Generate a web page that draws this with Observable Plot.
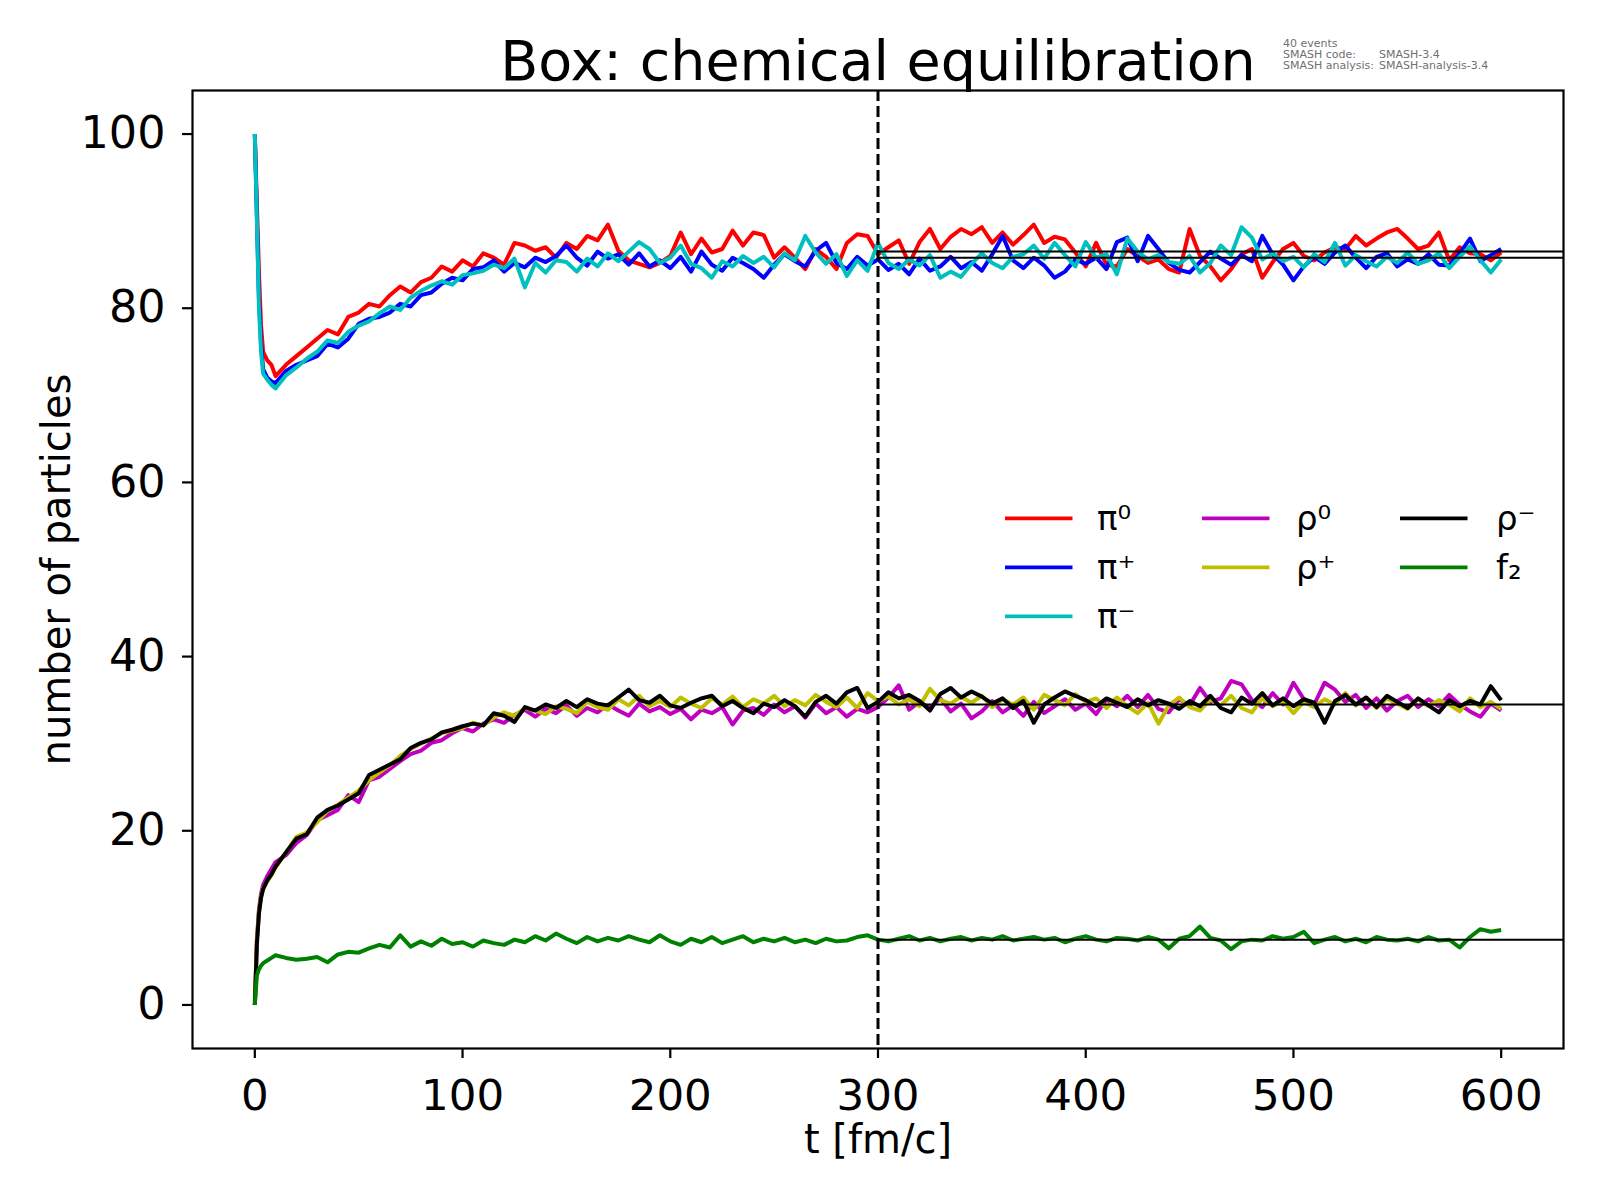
<!DOCTYPE html>
<html><head><meta charset="utf-8">
<script src="https://cdn.jsdelivr.net/npm/d3@7"></script>
<script src="https://cdn.jsdelivr.net/npm/@observablehq/plot@0.6"></script>
<style>
body{margin:0;background:#fff;}
#chart{position:relative;width:1600px;height:1200px;}
</style>
</head><body><div id="chart"></div>
<script>
// time axis [fm/c]
const T = [0,1,2,3,4,6,8,10,
15,20,25,30,35,40,45,50,55,60,
65,70,75,80,85,90,95,100,105,110,
115,120,125,130,135,140,145,150,155,160,
165,170,175,180,185,190,195,200,205,210,
215,220,225,230,235,240,245,250,255,260,
265,270,275,280,285,290,295,300,305,310,
315,320,325,330,335,340,345,350,355,360,
365,370,375,380,385,390,395,400,405,410,
415,420,425,430,435,440,445,450,455,460,
465,470,475,480,485,490,495,500,505,510,
515,520,525,530,535,540,545,550,555,560,
565,570,575,580,585,590,595,600];

const pi0 = [100,92,84,78,75,74,73.5,72.2,
73.5,74.5,75.5,76.5,77.5,77,79,79.5,80.5,80.2,
81.5,82.5,81.8,83,83.5,84.8,84.2,85.5,84.8,86.3,
85.8,85,87.5,87.2,86.6,87,85.8,87.5,86.8,88.3,
87.8,89.6,86.6,85.5,85.1,84.7,85.2,86,88.7,86.2,
88,86.4,86.8,88.9,87.2,88.7,88.4,85.8,87,85.8,
84.5,86.8,85.9,84.5,87.5,88.5,88.3,86.2,87,87.8,
85.1,87.6,89.1,86.8,88.2,89.1,88.5,89.3,87.5,88.7,
87.3,88.4,89.6,87.5,88.2,87.9,86.4,84.8,87.5,85,
84.8,86.8,86,85.2,85.6,84.5,84.1,89.1,86,84.8,
83.2,84.5,86.2,86.8,83.5,85.3,86.8,87.5,86,85.5,
86.4,87,86.8,88.3,87.2,88,88.7,89.1,88,86.8,
87.2,88.7,85.5,87,86.3,86.2,85.5,86.4];

const piPlus = [100,90.5,81,76,73,72,71.6,71.4,
72.8,73.5,74,74.5,75.9,75.5,76.5,78.2,78.8,79,
79.5,80.5,80.2,81.5,81.8,82.8,83.5,83.2,84.5,84.7,
85.5,84.2,85.2,84.7,85.8,85.3,86,87.2,85.8,84.9,
86.5,85.7,86.2,85,86.3,84.8,85.5,84.6,85.9,84.2,
86.5,85,84.3,85.8,85.2,84.5,83.5,85,86.2,85.4,
84.8,86.6,87.5,85.2,84.5,85.9,84.9,85.6,84.4,85.1,
83.9,85.7,84.3,84.8,85.9,84.6,85.3,84.3,86.2,88.3,
85.5,84.6,85.8,84.9,83.5,84.2,85.6,85.1,85.8,84.5,
87.6,88.1,85.4,88.3,86.8,85.2,84.4,84.1,85.3,86.5,
85.7,85,86.1,85.4,88.3,86.2,85,83.2,84.8,85.9,
85.1,86.4,87.2,85.8,84.6,85.9,86.3,84.8,85.6,85.1,
86.2,85,84.9,86.3,88,85.4,86.1,86.8];

const piMinus = [100,90,80,75,72.5,71.8,71.2,70.8,
72.3,73.2,74.2,75,76.3,76,77.3,78,78.5,79.4,
80.2,79.8,81.2,82,82.6,83.1,82.7,83.8,84,84.3,
85,84.6,85.7,82.4,85.2,84.1,85.5,85.3,84.2,85.7,
84.8,86.3,85.4,86.5,87.6,86.8,85.2,85.8,87.2,85.1,
84.6,83.5,85.4,84.8,86,85.2,85.9,84.7,86.3,85.5,
88.3,86.4,85.1,86.2,83.7,85.5,84.3,87.5,85.2,84.5,
85.6,84.9,86.1,83.5,84.2,83.6,85.1,86.3,85.2,84.6,
85.9,86.2,87.2,85.7,87.5,86.1,84.8,87.6,85.8,86.2,
83.9,88,86.5,85.6,86.1,85.3,85.1,86,84.1,85.2,
87.2,86.1,89.3,88.1,85.6,86.3,85.4,85.9,84.7,86.2,
85.3,87.5,84.9,86.1,85.4,84.8,85.9,85.2,86.4,85.1,
85.5,86.3,84.6,85.9,87.1,85.5,84.1,85.6];

const rho0 = [0,7.5,11,12.8,13.8,14.8,15.6,16.4,
17.2,18.6,19.5,21.2,21.8,22.4,24.1,23.3,25.8,26.2,
27.1,28,28.8,29.2,30.1,30.4,31.2,31.8,31.4,32.3,
32.8,32.4,33.3,33.9,33.1,34,33.5,34.4,33.2,34.1,
33.6,34.5,33.8,33.2,34.6,33.7,34.2,33.4,34,32.8,
33.9,33.5,34.2,32.2,33.8,34.1,33.3,34.5,33.6,34.3,
33,34.6,33.5,34.2,33.1,34,33.6,34.2,35.3,36.7,
33.9,34.8,34.1,35.2,33.7,34.6,32.9,33.7,34.9,33.6,
34.4,33.2,34.8,33.5,34.3,35.1,33.9,34.6,33.4,35.1,
34.3,35.5,34.2,35.6,34,33.6,35.1,34.4,36.4,34.8,
35.2,37.2,36.8,35,34.2,35.8,34.5,37,35.1,34.5,
37,36.2,34.8,35.6,34.1,35.2,33.8,34.9,35.5,34.2,
35.1,34.3,35.6,34.5,33.7,33.1,34.6,33.8];

const rhoPlus = [0,7.5,10.8,12.5,13.4,14.2,14.9,15.8,
17.5,19.3,19.8,21,22.3,23,23.8,24.6,25.8,26.7,
27.5,28.6,29.4,30,30.6,31.2,31.5,31.8,32.4,32.1,
33,33.6,33.2,34.1,33.8,33.4,34.3,34,33.5,34.8,
34.2,33.9,35.1,34.4,35.5,34.3,34.9,34.2,35.3,34.6,
34.1,35.2,34.5,35.4,34.2,35.1,34.6,35.5,34.3,35,
34.4,35.6,34.8,34.2,35.3,34.1,35.8,34.9,35.4,34.5,
35.1,34.3,36.3,35,34.6,35.4,34.7,35.5,34.2,35.1,
34.5,35.3,33.9,35.6,35,34.4,35.7,34.8,35.2,34.1,
35.3,34.3,33.5,34.7,32.3,34.4,35.3,34.2,33.8,35.1,
34.4,35.5,34.1,33.6,35.2,34.3,34.9,33.5,34.8,34.2,
35.1,34.5,35.8,34.4,35.3,34.1,35.2,34.6,34,35.1,
34.3,35,34.5,33.7,35.2,34.2,34.8,34];

const rhoMinus = [0,7,10.5,12.3,13.3,14.3,15,15.9,
17.5,19.1,19.6,21.5,22.4,22.9,23.6,24.3,26.4,27,
27.6,28.2,29.5,30.1,30.5,31.3,31.6,32,32.3,32.1,
33.5,33.2,32.5,34.2,33.8,34.5,34.1,34.9,34.2,35.1,
34.6,34.4,35.3,36.2,35,34.7,35.5,34.4,34.1,34.7,
35.2,35.5,34.3,34.9,34.1,33.5,34.6,34.2,35,34.3,
33.1,34.8,35.5,34.6,35.9,36.4,34.1,34.8,35.9,35.2,
35.6,34.9,33.8,35.7,36.4,35.3,36,35.4,34.6,35.2,
34.1,34.9,32.4,34.5,35.3,36,35.5,35,34.3,35.2,
34.7,34.2,35.1,34.4,35,34.6,34,34.9,34.3,35.5,
34.1,33.6,35.3,34.6,35.8,34.4,35.2,34.3,35.1,34.7,
32.4,34.9,35.6,34.5,35.3,34.2,35.5,34.8,34.1,35.2,
34.4,33.6,35,34.3,34.9,34.5,36.6,35];

const f2 = [0,3.4,4.1,4.5,4.8,5.1,5.4,5.7,
5.4,5.2,5.3,5.5,4.9,5.8,6.1,6,6.5,6.9,
6.6,8,6.7,7.3,6.8,7.6,7,7.2,6.7,7.4,
7.1,6.9,7.5,7.2,7.9,7.4,8.2,7.6,7.1,7.8,
7.3,7.7,7.4,7.9,7.5,7.2,8,7.3,6.9,7.6,
7.2,7.8,7.1,7.5,7.9,7.2,7.6,7.3,7.7,7.2,
7.5,7.1,7.6,7.3,7.4,7.8,8,7.5,7.3,7.6,
7.9,7.4,7.7,7.3,7.6,7.8,7.4,7.7,7.5,7.9,
7.4,7.6,7.8,7.5,7.7,7.2,7.6,7.9,7.5,7.3,
7.7,7.6,7.4,7.8,7.5,6.5,7.6,7.9,9,7.7,
7.4,6.4,7.3,7.5,7.4,7.9,7.6,7.8,8.4,7.1,
7.5,7.8,7.3,7.6,7.2,7.8,7.5,7.4,7.6,7.3,
7.8,7.4,7.5,6.6,7.8,8.7,8.4,8.6];

const seriesNames = ["π⁰","π⁺","π⁻","ρ⁰","ρ⁺","ρ⁻","f₂"];
const seriesValues = [pi0, piPlus, piMinus, rho0, rhoPlus, rhoMinus, f2];
const seriesColors = ["#ff0000","#0000ff","#00bfbf","#bf00bf","#bfbf00","#000000","#008000"];

// equilibrium levels (horizontal reference lines drawn from t=300)
const eqLevels = [86.5, 85.8, 34.5, 7.5];
const tEquil = 300;

const xTicks = [0,100,200,300,400,500,600];
const yTicks = [0,20,40,60,80,100];

const title = "Box: chemical equilibration";
const xLabel = "t [fm/c]";
const yLabel = "number of particles";
const infoLines = ["40 events", "SMASH code:", "SMASH analysis:"];
const infoValues = ["", "SMASH-3.4", "SMASH-analysis-3.4"];

const W = 1600, H = 1200;
const mL = 192, mR = 37, mT = 90, mB = 152;
const FONT = "'DejaVu Sans', sans-serif";

const lineMarks = seriesValues.map((vals, k) =>
  Plot.line(T.map((t, i) => ({t, v: vals[i]})), {
    x: "t", y: "v", stroke: seriesColors[k], strokeWidth: 4,
    strokeLinejoin: "round", strokeLinecap: "butt"
  })
);

const svg = Plot.plot({
  width: W, height: H,
  marginLeft: mL, marginRight: mR, marginTop: mT, marginBottom: mB,
  style: {fontFamily: FONT, background: "#fff", color: "#000"},
  x: {domain: [-30, 630]},
  y: {domain: [-5, 105]},
  marks: [
    ...lineMarks,
    Plot.ruleY(eqLevels, {y: d => d, x1: tEquil, x2: 630, stroke: "#000", strokeWidth: 2}),
    Plot.ruleX([tEquil], {stroke: "#000", strokeWidth: 3, strokeDasharray: "11,5"}),
    Plot.frame({stroke: "#000", strokeWidth: 2.2}),
    Plot.axisX({ticks: xTicks, tickSize: 10, tickPadding: 21, fontSize: 43.5, strokeWidth: 2.2, label: null}),
    Plot.axisY({ticks: yTicks, tickSize: 10, tickPadding: 17, fontSize: 44.5, strokeWidth: 2.2, label: null}),
    Plot.text([title], {frameAnchor: "top", dy: -10.5, lineAnchor: "bottom", textAnchor: "middle", fontSize: 55.5, text: d => d, fill: "#000"}),
    Plot.text([xLabel], {frameAnchor: "bottom", dy: 104, lineAnchor: "bottom", textAnchor: "middle", fontSize: 40, text: d => d, fill: "#000"}),
    Plot.text([yLabel], {frameAnchor: "left", dx: -123, rotate: -90, lineAnchor: "bottom", textAnchor: "middle", fontSize: 40, text: d => d, fill: "#000"})
  ]
});

// run information (small grey text at the top right)
const info = d3.select(svg).append("g").attr("font-size", 11).attr("fill", "#707070")
  .attr("font-family", FONT).attr("text-anchor", "start");
infoLines.forEach((s, i) => {
  const y = 47.3 + i * 10.8;
  info.append("text").attr("x", 1283).attr("y", y).text(s);
  if (infoValues[i]) info.append("text").attr("x", 1379).attr("y", y).text(infoValues[i]);
});

// Legend (3 columns: 3,2,2)
const colX = [1005, 1202, 1400];
const textX = [1097, 1296, 1496];
const rowY = [518.4, 567.3, 616.3];
const lg = d3.select(svg).append("g").attr("font-family", FONT).attr("font-size", 34).attr("text-anchor", "start");
seriesNames.forEach((name, i) => {
  const col = i < 3 ? 0 : i < 5 ? 1 : 2;
  const row = i < 3 ? i : i < 5 ? i - 3 : i - 5;
  lg.append("line").attr("x1", colX[col]).attr("x2", colX[col] + 67.5)
    .attr("y1", rowY[row]).attr("y2", rowY[row])
    .attr("stroke", seriesColors[i]).attr("stroke-width", 3.8);
  lg.append("text").attr("x", textX[col]).attr("y", rowY[row] + 12).attr("fill", "#000").text(name);
});

document.getElementById("chart").appendChild(svg);
</script>
</body></html>
